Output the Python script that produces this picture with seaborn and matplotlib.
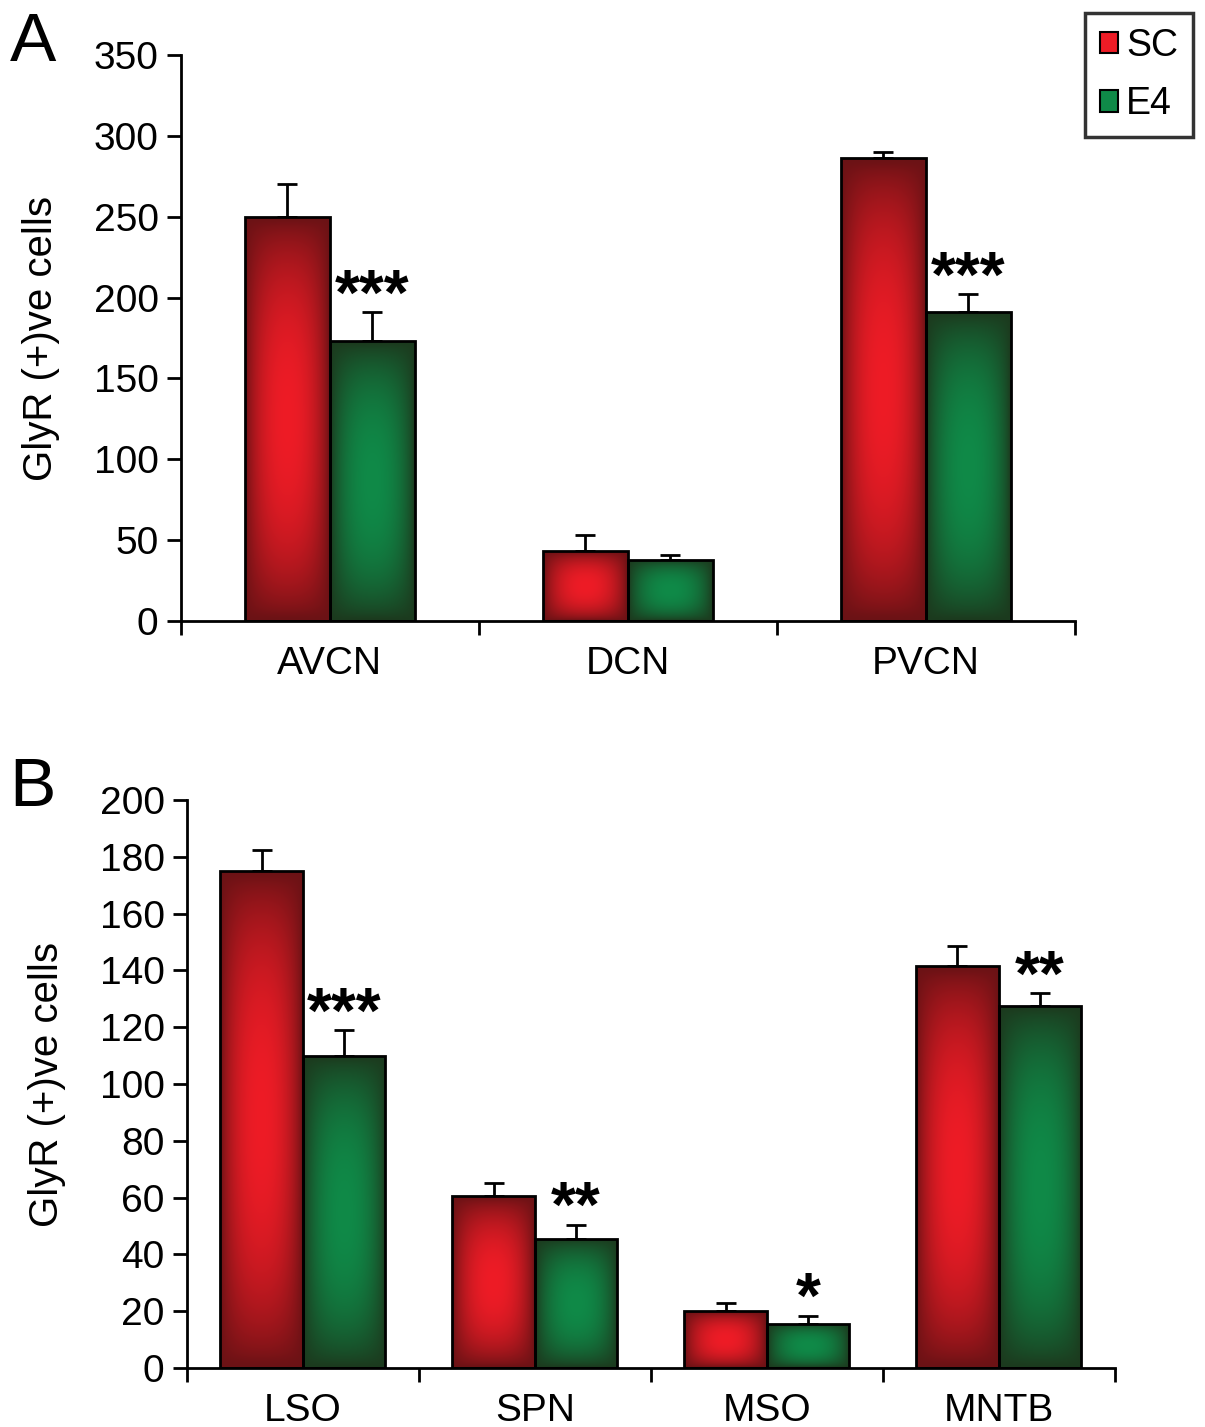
import numpy as np
import pandas as pd
import matplotlib
matplotlib.use('Agg')
import matplotlib.pyplot as plt
import seaborn as sns
from matplotlib.patches import Patch
from matplotlib.colors import to_rgb

# --- Data ---
regions_a = ['AVCN', 'DCN', 'PVCN']
sc_a = [250, 43, 286]
sc_a_err = [20, 10, 4]
e4_a = [173, 38, 191]
e4_a_err = [18, 3, 11]
stars_a = ['***', '', '***']

regions_b = ['LSO', 'SPN', 'MSO', 'MNTB']
sc_b = [175, 60.5, 20, 141.5]
sc_b_err = [7.5, 4.5, 3, 7]
e4_b = [110, 45.5, 15.5, 127.5]
e4_b_err = [9, 5, 3, 4.5]
stars_b = ['***', '**', '*', '**']

groups = ['SC', 'E4']
dark = {'SC': '#6b1215', 'E4': '#1c3a1e'}
bright = {'SC': '#ee1c26', 'E4': '#0f8a48'}

sns.set_style('white')
plt.rcParams['font.family'] = ['Liberation Sans', 'DejaVu Sans']
plt.rcParams['text.color'] = 'black'
plt.rcParams['axes.labelcolor'] = 'black'
plt.rcParams['xtick.color'] = 'black'
plt.rcParams['ytick.color'] = 'black'
plt.rcParams['xtick.bottom'] = True
plt.rcParams['ytick.left'] = True


def gradient_img(color_dark, color_bright, n=64):
    u = np.linspace(-1, 1, n)
    v = np.linspace(-1, 1, n)
    U, V = np.meshgrid(u, v)
    t = (1 - np.abs(U) ** 2.2) * (1 - np.abs(V) ** 2.2)
    t = np.clip(t, 0, 1) ** 0.8
    d = np.array(to_rgb(color_dark))
    b = np.array(to_rgb(color_bright))
    return d + t[..., None] * (b - d)


def draw_panel(ax, regions, sc, sc_err, e4, e4_err, stars, ymax, ystep, width):
    df = pd.DataFrame({
        'region': regions * 2,
        'group': ['SC'] * len(regions) + ['E4'] * len(regions),
        'value': sc + e4,
    })
    sns.barplot(data=df, x='region', y='value', hue='group', hue_order=groups,
                palette=[bright['SC'], bright['E4']], width=width, ax=ax,
                legend=False, errorbar=None, edgecolor='black', linewidth=2)
    bars = list(ax.patches)
    n = len(regions)
    errs = sc_err + e4_err
    vals = sc + e4
    for i, p in enumerate(bars):
        g = groups[i // n]
        x0, w, h = p.get_x(), p.get_width(), p.get_height()
        im = ax.imshow(gradient_img(dark[g], bright[g]), extent=[x0, x0 + w, 0, h],
                       aspect='auto', zorder=p.get_zorder() + 0.1, interpolation='bicubic')
        im.set_clip_path(p)
        p.set_facecolor('none')
        p.set_zorder(p.get_zorder() + 0.2)
        xc = x0 + w / 2
        ax.errorbar(xc, vals[i], yerr=[[0], [errs[i]]], fmt='none', ecolor='black',
                    elinewidth=2, capsize=7, capthick=2, zorder=1)
    # significance stars above E4 bars
    for j, s in enumerate(stars):
        if not s:
            continue
        p = bars[n + j]
        xc = p.get_x() + p.get_width() / 2
        ax.annotate(s, (xc, e4[j] + e4_err[j]), xytext=(0, -11), textcoords='offset points',
                    ha='center', va='bottom', fontsize=46, fontweight='bold',
                    family=['Liberation Sans', 'DejaVu Sans'])
    ax.set_xlim(-0.5, n - 0.5)
    ax.set_ylim(0, ymax)
    ax.set_yticks(np.arange(0, ymax + 1, ystep))
    ax.set_xticks(np.arange(-0.5, n, 1.0), minor=True)
    ax.tick_params(axis='x', which='major', bottom=False, length=0, pad=18)
    ax.tick_params(axis='x', which='minor', bottom=True, length=10, width=2,
                   direction='out', color='black')
    ax.tick_params(axis='y', left=True, length=10, width=2, direction='out',
                   color='black', pad=6)
    for lab in ax.get_xticklabels() + ax.get_yticklabels():
        lab.set_fontsize(28)
        lab.set_color('black')
    ax.set_xlabel('')
    ax.set_ylabel('GlyR (+)ve cells', fontsize=29, labelpad=24, color='black')
    for side in ['top', 'right']:
        ax.spines[side].set_visible(False)
    for side in ['left', 'bottom']:
        ax.spines[side].set_linewidth(2)
        ax.spines[side].set_color('black')


fig = plt.figure(figsize=(12.05, 14.27), dpi=100)
ax_a = fig.add_axes([0.150, 0.5648, 0.742, 0.3967])
ax_b = fig.add_axes([0.155, 0.0413, 0.770, 0.3981])

draw_panel(ax_a, regions_a, sc_a, sc_a_err, e4_a, e4_a_err, stars_a, 350, 50, 0.57)
draw_panel(ax_b, regions_b, sc_b, sc_b_err, e4_b, e4_b_err, stars_b, 200, 20, 0.71)

fig.text(0.008, 0.970, 'A', fontsize=50, va='center', ha='left')
fig.text(0.008, 0.448, 'B', fontsize=50, va='center', ha='left')

handles = [Patch(facecolor=bright['SC'], edgecolor='black', linewidth=1.5, label='SC'),
           Patch(facecolor=bright['E4'], edgecolor='black', linewidth=1.5, label='E4')]
leg = fig.legend(handles=handles, loc='upper right', bbox_to_anchor=(0.99, 0.991),
                 fontsize=27, frameon=True, fancybox=False, edgecolor='black',
                 handlelength=0.5, handleheight=0.5, handletextpad=0.2,
                 borderpad=0.4, labelspacing=0.6, borderaxespad=0)
leg.get_frame().set_linewidth(2.5)
for t in leg.get_texts():
    t.set_color('black')

fig.savefig('out.png', dpi=100)
